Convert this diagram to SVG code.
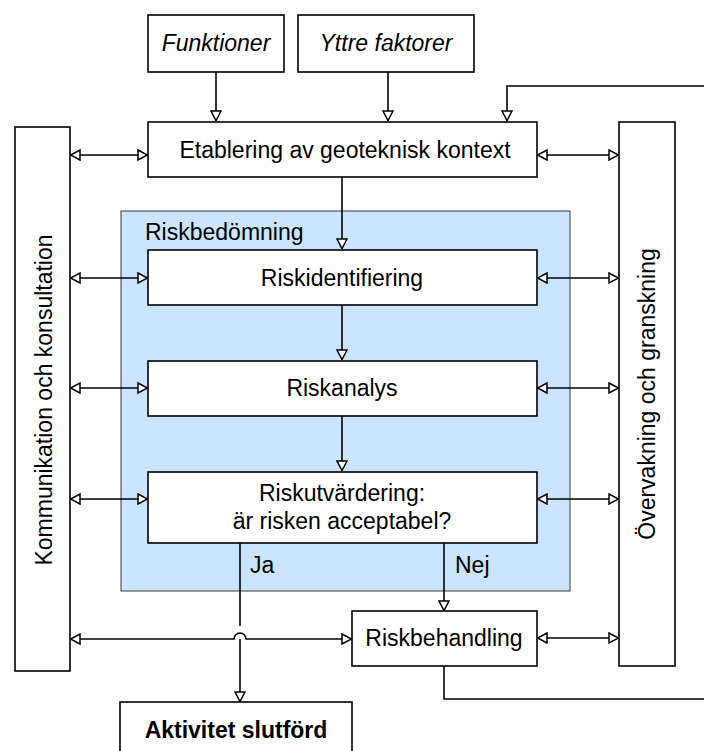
<svg xmlns="http://www.w3.org/2000/svg" width="704" height="751" viewBox="0 0 704 751">
<defs>
<marker id="ah" viewBox="0 0 11 12" refX="11" refY="6" markerWidth="11" markerHeight="12" markerUnits="userSpaceOnUse" orient="auto-start-reverse">
<path d="M1,1 L10.5,6 L1,11 Z" fill="#fff" stroke="#000" stroke-width="1.5" stroke-linejoin="miter"/>
</marker>
<style>
.box{fill:#fff;stroke:#000;stroke-width:1.6}
.t{font-family:"Liberation Sans",Arial,sans-serif;font-size:23px;fill:#000}
.c{text-anchor:middle}
.ln{fill:none;stroke:#000;stroke-width:1.6}
.a{marker-end:url(#ah)}
.d{marker-start:url(#ah);marker-end:url(#ah)}
</style>
</defs>
<rect width="704" height="751" fill="#fff"/>
<g id="riskbedomning">
<rect x="121" y="211" width="449" height="380" fill="#cce5ff" stroke="#36393d" stroke-width="1"/>
<text class="t" x="145" y="240" font-size="22">Riskbedömning</text>
</g>
<g id="funktioner">
<rect class="box" x="148" y="15" width="136" height="57"/>
<text class="t c" x="216" y="51" font-style="italic">Funktioner</text>
</g>
<g id="yttre">
<rect class="box" x="298" y="15" width="176" height="57"/>
<text class="t c" x="386" y="51" font-style="italic">Yttre faktorer</text>
</g>
<g id="etablering">
<rect class="box" x="148" y="122" width="389" height="55"/>
<text class="t c" x="345" y="158">Etablering av geoteknisk kontext</text>
</g>
<g id="kommunikation">
<rect class="box" x="15" y="127" width="55" height="544"/>
<text class="t c" transform="translate(52,400) rotate(-90)">Kommunikation och konsultation</text>
</g>
<g id="overvakning">
<rect class="box" x="619" y="122" width="56" height="544"/>
<text class="t c" transform="translate(655,394) rotate(-90)">Övervakning och granskning</text>
</g>
<g id="riskidentifiering">
<rect class="box" x="148" y="250" width="389" height="55"/>
<text class="t c" x="342" y="286">Riskidentifiering</text>
</g>
<g id="riskanalys">
<rect class="box" x="148" y="361" width="389" height="55"/>
<text class="t c" x="342" y="396">Riskanalys</text>
</g>
<g id="riskutvardering">
<rect class="box" x="148" y="472" width="389" height="71"/>
<text class="t c" x="342" y="501">Riskutvärdering:</text>
<text class="t c" x="342" y="529">är risken acceptabel?</text>
</g>
<g id="riskbehandling">
<rect class="box" x="352" y="611" width="185" height="55"/>
<text class="t c" x="444" y="646">Riskbehandling</text>
</g>
<g id="aktivitet">
<rect class="box" x="120" y="702" width="232" height="60"/>
<text class="t c" x="236" y="738" font-weight="bold">Aktivitet slutförd</text>
</g>
<g id="connectors">
<path class="ln a" d="M216,72 V121"/>
<path class="ln a" d="M388,72 V121"/>
<path class="ln a" d="M704,86 H507 V121"/>
<path class="ln a" d="M342,177 V249"/>
<path class="ln a" d="M342,305 V360"/>
<path class="ln a" d="M342,416 V471"/>
<path class="ln d" d="M70,155 H148"/>
<path class="ln d" d="M537,155 H619"/>
<path class="ln d" d="M70,278 H148"/>
<path class="ln d" d="M537,278 H619"/>
<path class="ln d" d="M70,388 H148"/>
<path class="ln d" d="M537,388 H619"/>
<path class="ln d" d="M70,499 H148"/>
<path class="ln d" d="M537,499 H619"/>
<path class="ln d" d="M537,638 H619"/>
<path class="ln d" d="M70,639 H234 A6,6 0 0 1 246,639 H352"/>
<path class="ln" d="M240,543 V626"/>
<path class="ln a" d="M240,639 V702"/>
<path class="ln a" d="M444,543 V611"/>
<path class="ln" d="M444,666 V699 H704"/>
<text class="t" x="250" y="573" font-size="17">Ja</text>
<text class="t" x="455" y="573" font-size="17">Nej</text>
</g>
</svg>
